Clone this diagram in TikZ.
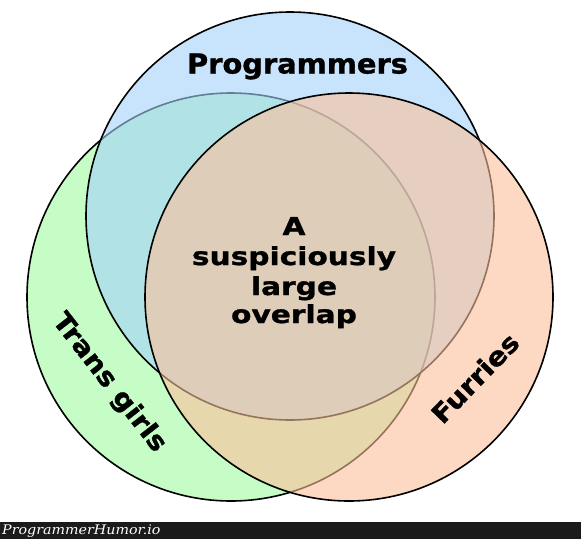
\documentclass[tikz,border=0pt]{standalone}
\usepackage{fontspec}
\newfontfamily\pixA[FakeStretch=1.05,BoldFeatures={FakeBold=1.2}]{DejaVu Sans}
\newfontfamily\pixB[FakeStretch=1.2,BoldFeatures={FakeBold=1.2}]{DejaVu Sans}
\newfontfamily\pixC[FakeStretch=1.1,BoldFeatures={FakeBold=1.2}]{DejaVu Sans}
\newfontfamily\wm[FakeStretch=1.08]{DejaVu Serif}
\definecolor{cb}{RGB}{163,210,250}
\definecolor{cg}{RGB}{160,250,160}
\definecolor{co}{RGB}{252,192,155}
\definecolor{barc}{RGB}{27,27,27}
\begin{document}
\begin{tikzpicture}[x=1pt,y=-1pt,
  venn/.style={circle, draw=black, line width=1.6pt, fill opacity=0.6, minimum size=408pt, inner sep=0pt},
  lbl/.style={inner sep=0pt}]
\useasboundingbox (0,0) rectangle (581,539);
\fill[white] (0,0) rectangle (581,539);
\node[venn, fill=cg] (trans) at (231,297) {};
\node[venn, fill=cb] (prog) at (290,216) {};
\node[venn, fill=co] (fur) at (349,297) {};
\node[lbl, anchor=base, font=\pixA\bfseries\fontsize{27.5}{27.5}\selectfont] (tprog) at (297.5,73.5) {Programmers};
\node[lbl, anchor=base, font=\pixB\bfseries\fontsize{24.7}{24.7}\selectfont] (c1) at (294,235) {A};
\node[lbl, anchor=base, font=\pixB\bfseries\fontsize{24.7}{24.7}\selectfont] (c2) at (294,265) {suspiciously};
\node[lbl, anchor=base, font=\pixB\bfseries\fontsize{24.7}{24.7}\selectfont] (c3) at (294,295) {large};
\node[lbl, anchor=base, font=\pixB\bfseries\fontsize{24.7}{24.7}\selectfont] (c4) at (294,323) {overlap};
\node[lbl, rotate=-52, font=\pixC\bfseries\fontsize{26}{26}\selectfont] (ttrans) at (109,383) {Trans girls};
\node[lbl, rotate=46, font=\pixC\bfseries\fontsize{26}{26}\selectfont] (tfur) at (475,378) {Furries};
\fill[barc] (0,521.5) rectangle (581,539);
\node[anchor=base west, inner sep=0pt, text=white, font=\wm\itshape\fontsize{13.2}{13.2}\selectfont] (wmark) at (2,534.5) {ProgrammerHumor.io};
\end{tikzpicture}
\end{document}
